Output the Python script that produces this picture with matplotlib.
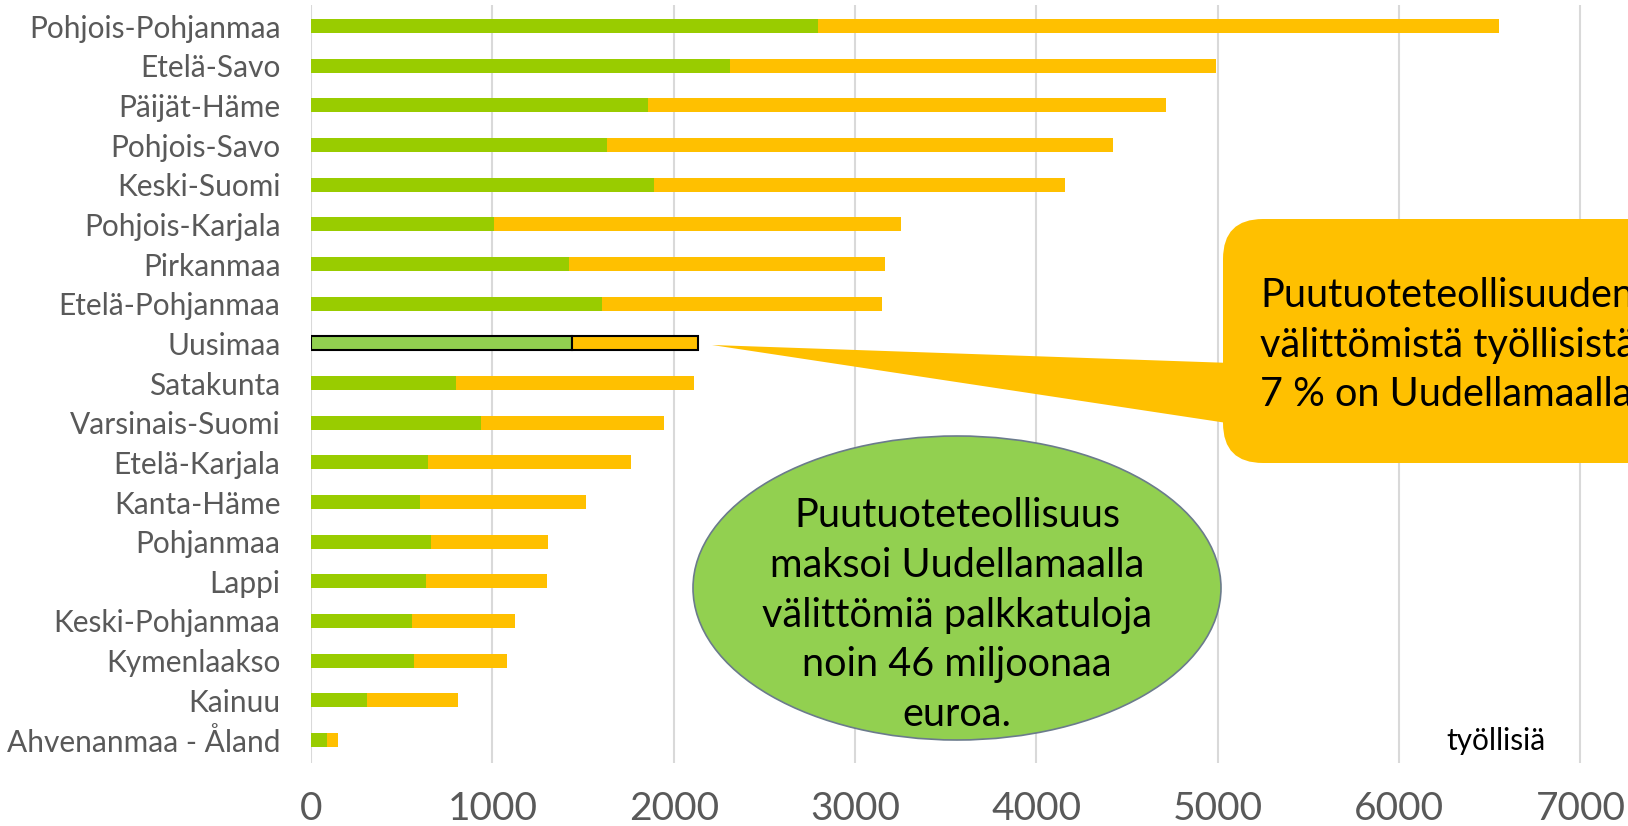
import matplotlib.pyplot as plt
import numpy as np
from matplotlib.patches import Ellipse, FancyBboxPatch, Polygon
from matplotlib.transforms import IdentityTransform

plt.rcParams['font.family'] = ['Lato', 'DejaVu Sans']

regions = ['Pohjois-Pohjanmaa', 'Etelä-Savo', 'Päijät-Häme', 'Pohjois-Savo', 'Keski-Suomi',
           'Pohjois-Karjala', 'Pirkanmaa', 'Etelä-Pohjanmaa', 'Uusimaa', 'Satakunta',
           'Varsinais-Suomi', 'Etelä-Karjala', 'Kanta-Häme', 'Pohjanmaa', 'Lappi',
           'Keski-Pohjanmaa', 'Kymenlaakso', 'Kainuu', 'Ahvenanmaa - Åland']
# direct employment (green) and total employment (bar end)
direct = np.array([2795, 2308, 1856, 1632, 1890, 1008, 1420, 1604, 1440, 798,
                   939, 647, 601, 659, 636, 556, 567, 309, 86])
total = np.array([6552, 4989, 4714, 4422, 4158, 3253, 3167, 3150, 2135, 2113,
                  1947, 1764, 1518, 1306, 1300, 1123, 1082, 808, 149])
xticks = [0, 1000, 2000, 3000, 4000, 5000, 6000, 7000]

W, H = 1628, 826
fig = plt.figure(figsize=(W / 100, H / 100), dpi=100)
ax = fig.add_axes([311 / W, 1 - 763 / H, (W - 311) / W, (763 - 5) / H])

y = np.arange(len(regions))
green = ['#92D050' if r == 'Uusimaa' else '#99CC00' for r in regions]
orange = '#FFC000'
edges = ['black' if r == 'Uusimaa' else 'none' for r in regions]
lws = [1.5 if r == 'Uusimaa' else 0 for r in regions]

ax.barh(y, direct, height=0.36, color=green, edgecolor=edges, linewidth=lws, zorder=3)
ax.barh(y, total - direct, left=direct, height=0.36, color=orange, edgecolor=edges,
        linewidth=lws, zorder=3)

ax.set_xlim(0, 7262)
ax.set_ylim(18.58, -0.53)
ax.set_yticks(y)
ax.set_yticklabels(regions)
ax.set_xticks(xticks)
ax.tick_params(axis='y', length=0, pad=22, labelsize=21.5, labelcolor='#595959')
ax.tick_params(axis='x', length=0, pad=20, labelsize=28, labelcolor='#595959')
ax.grid(axis='x', color='#D9D9D9', linewidth=1.5, zorder=0)
for s in ax.spines.values():
    s.set_visible(False)

ax.text(1496 / W, 1 - 741 / H, 'työllisiä', transform=fig.transFigure,
        ha='center', va='center', fontsize=21.5, color='black')

# green ellipse note
ell = Ellipse((957 / W, 1 - 588 / H), 528 / W, 304 / H, transform=fig.transFigure,
              facecolor='#92D050', edgecolor='#6B7B8C', linewidth=1.2, zorder=5)
fig.add_artist(ell)
fig.text(957 / W, 1 - 615 / H,
         'Puutuoteteollisuus\nmaksoi Uudellamaalla\nvälittömiä palkkatuloja\nnoin 46 miljoonaa\neuroa.',
         ha='center', va='center', fontsize=28.5, color='black', linespacing=1.42, zorder=6)

# orange callout pointing at Uusimaa
idt = IdentityTransform()
wedge = Polygon([(712, H - 345), (1260, H - 364), (1260, H - 428)], closed=True,
                transform=idt, facecolor=orange, edgecolor='none', zorder=5)
fig.add_artist(wedge)
box = FancyBboxPatch((1223, H - 463), 480, 244, boxstyle='round,pad=0,rounding_size=40',
                     transform=idt, facecolor=orange, edgecolor='none', zorder=5)
fig.add_artist(box)
fig.text(1260 / W, 1 - 345 / H,
         'Puutuoteteollisuuden\nvälittömistä työllisistä\n7 % on Uudellamaalla',
         ha='left', va='center', fontsize=28.5, color='black', linespacing=1.42, zorder=6)

fig.savefig('out.png', dpi=100)
